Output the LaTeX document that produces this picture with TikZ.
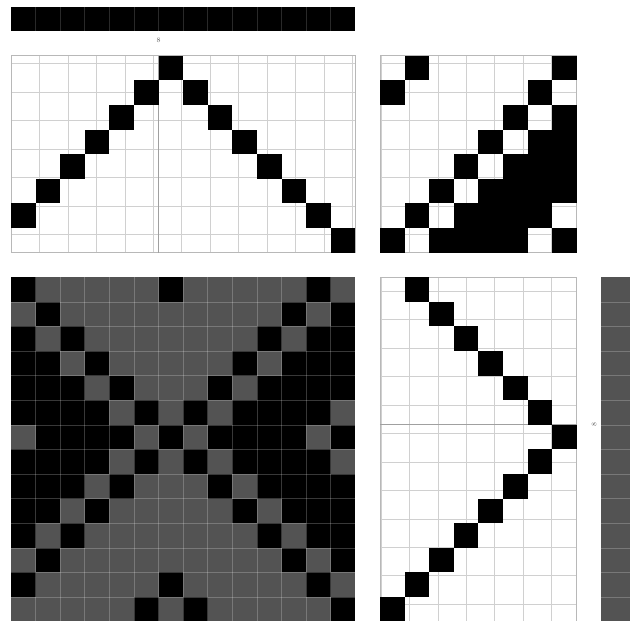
\documentclass[tikz,border=0pt]{standalone}
\definecolor{weft}{HTML}{535353}
\definecolor{gridc}{HTML}{D0D0D0}
\definecolor{borderc}{HTML}{B8B8B8}
\definecolor{centerc}{HTML}{A0A0A0}
\definecolor{labelc}{HTML}{555555}
\newcommand\ddrow[2]{\foreach \c in {#2} \fill[black] (\c,11+#1) rectangle ++(1,1);}
\tikzset{
  gridline/.style={draw=gridc, line width=0.5pt},
  frameline/.style={draw=borderc, line width=0.7pt},
  centerline/.style={draw=centerc, line width=0.9pt},
  overline/.style={draw=white, draw opacity=0.22, line width=0.6pt},
  tinylabel/.style={font=\fontsize{7}{8}\selectfont, text=labelc, inner sep=0pt}
}
\begin{document}
\begin{tikzpicture}[x=24.6pt,y=-24.6pt]
\useasboundingbox (-0.447,-0.27) rectangle (25.163,24.97);
% top warp colour bar
\fill[black] (0,0) rectangle (14,1);
\foreach \i in {1,...,13} \draw[overline, draw opacity=0.16] (\i,0) -- (\i,1);
\node[tinylabel] (lbltop) at (6,1.36) {8};
% threading
\draw[gridline] (0,2) grid (14,10);
\draw[frameline] (0,2) rectangle (14,10);
\draw[centerline] (6,2) -- (6,10);
\foreach \c/\r in {0/6,1/5,2/4,3/3,4/2,5/1,6/0,7/1,8/2,9/3,10/4,11/5,12/6,13/7}
  \fill[black] (\c,2+\r) rectangle ++(1,1);
% tie-up
\draw[gridline] (15,2) grid (23,10);
\draw[frameline] (15,2) rectangle (23,10);
\foreach \r/\t in {0/1,0/7,1/0,1/6,2/5,2/7,3/4,3/6,3/7,4/3,4/5,4/6,4/7,5/2,5/4,5/5,5/6,5/7,6/1,6/3,6/4,6/5,6/6,7/0,7/2,7/3,7/4,7/5,7/7}
  \fill[black] (15+\t,2+\r) rectangle ++(1,1);
% drawdown
\fill[weft] (0,11) rectangle (14,25);
\ddrow{0}{0,6,12}
\ddrow{1}{1,11,13}
\ddrow{2}{0,2,10,12,13}
\ddrow{3}{0,1,3,9,11,12,13}
\ddrow{4}{0,1,2,4,8,10,11,12,13}
\ddrow{5}{0,1,2,3,5,7,9,10,11,12}
\ddrow{6}{1,2,3,4,6,8,9,10,11,13}
\ddrow{7}{0,1,2,3,5,7,9,10,11,12}
\ddrow{8}{0,1,2,4,8,10,11,12,13}
\ddrow{9}{0,1,3,9,11,12,13}
\ddrow{10}{0,2,10,12,13}
\ddrow{11}{1,11,13}
\ddrow{12}{0,6,12}
\ddrow{13}{5,7,13}
\foreach \i in {1,...,13} \draw[overline] (\i,11) -- (\i,25);
\foreach \j in {12,...,24} \draw[overline] (0,\j) -- (14,\j);
% treadling
\draw[gridline] (15,11) grid (23,25);
\draw[frameline] (15,11) rectangle (23,25);
\draw[centerline] (15,17) -- (23,17);
\foreach \r/\t in {0/1,1/2,2/3,3/4,4/5,5/6,6/7,7/6,8/5,9/4,10/3,11/2,12/1,13/0}
  \fill[black] (15+\t,11+\r) rectangle ++(1,1);
% weft colour bar
\fill[weft] (24,11) rectangle (25.2,25);
\foreach \j in {12,...,24} \draw[overline] (24,\j) -- (25.2,\j);
\node[tinylabel, rotate=90] (lblright) at (23.7,17) {8};
\end{tikzpicture}
\end{document}
